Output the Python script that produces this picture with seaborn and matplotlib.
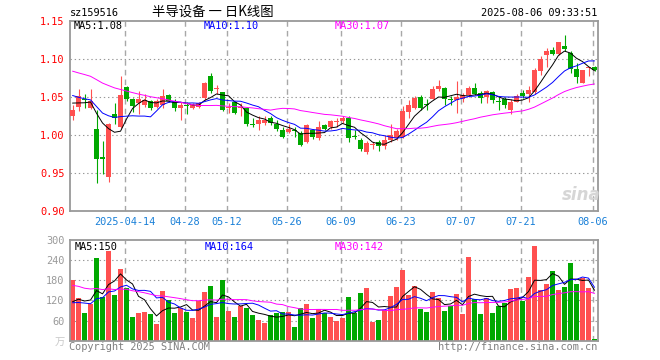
import matplotlib
matplotlib.use("Agg")
import matplotlib.pyplot as plt
import numpy as np
import pandas as pd
import seaborn as sns

# trading days shown (2025-03-31 .. 2025-08-06), exchange holidays removed
first_day = "2025-03-31"
last_day = "2025-08-06"
holidays = ["2025-04-04", "2025-05-01", "2025-05-02", "2025-05-05", "2025-06-02"]
label_days = ["2025-04-14", "2025-04-28", "2025-05-12", "2025-05-26", "2025-06-09",
              "2025-06-23", "2025-07-07", "2025-07-21", "2025-08-06"]

# daily OHLC of sz159516
open_ = [1.025, 1.037, 1.047, 1.036, 1.008, 0.971, 0.945, 1.028, 1.011, 1.063,
         1.048, 1.042, 1.039, 1.045, 1.037, 1.039, 1.052, 1.045, 1.036, 1.039,
         1.036, 1.037, 1.049, 1.077, 1.060, 1.056, 1.036, 1.043, 1.035, 1.036,
         1.014, 1.014, 1.016, 1.022, 1.015, 1.007, 1.004, 1.006, 1.003, 0.991,
         1.006, 0.996, 1.013, 1.010, 1.017, 1.018, 1.022, 0.998, 0.994, 0.977,
         0.987, 0.991, 0.986, 0.994, 0.996, 0.998, 1.030, 1.036, 1.050, 1.041,
         1.048, 1.061, 1.062, 1.047, 1.046, 1.047, 1.052, 1.062, 1.055, 1.050,
         1.056, 1.045, 1.047, 1.033, 1.044, 1.055, 1.054, 1.056, 1.084, 1.105,
         1.112, 1.107, 1.117, 1.108, 1.087, 1.069, 1.088, 1.090]
high = [1.040, 1.060, 1.054, 1.061, 1.033, 0.992, 1.016, 1.042, 1.077, 1.065,
        1.049, 1.058, 1.054, 1.046, 1.047, 1.061, 1.054, 1.047, 1.043, 1.044,
        1.042, 1.044, 1.070, 1.081, 1.066, 1.057, 1.042, 1.045, 1.042, 1.037,
        1.022, 1.025, 1.025, 1.025, 1.020, 1.011, 1.014, 1.010, 1.005, 1.014,
        1.008, 1.019, 1.015, 1.020, 1.022, 1.025, 1.025, 1.007, 0.996, 0.992,
        0.991, 0.994, 1.000, 1.014, 1.008, 1.038, 1.046, 1.051, 1.052, 1.047,
        1.064, 1.073, 1.063, 1.051, 1.071, 1.055, 1.064, 1.068, 1.058, 1.059,
        1.058, 1.050, 1.050, 1.047, 1.054, 1.059, 1.064, 1.088, 1.104, 1.115,
        1.116, 1.123, 1.131, 1.110, 1.095, 1.086, 1.090, 1.091]
low = [1.020, 1.031, 1.036, 1.034, 0.937, 0.949, 0.938, 1.015, 1.009, 1.045,
       1.030, 1.028, 1.037, 1.033, 1.035, 1.036, 1.043, 1.031, 1.020, 1.027,
       1.034, 1.035, 1.046, 1.055, 1.054, 1.031, 1.029, 1.027, 1.025, 1.012,
       1.011, 1.007, 1.013, 1.013, 1.005, 0.996, 1.003, 0.998, 0.986, 0.989,
       0.995, 0.993, 1.006, 1.008, 1.011, 1.016, 0.991, 0.995, 0.979, 0.975,
       0.981, 0.979, 0.981, 0.991, 0.994, 0.996, 1.022, 1.034, 1.033, 1.033,
       1.047, 1.058, 1.040, 1.040, 1.029, 1.044, 1.050, 1.052, 1.042, 1.042,
       1.042, 1.033, 1.036, 1.027, 1.044, 1.049, 1.044, 1.054, 1.079, 1.090,
       1.105, 1.105, 1.110, 1.082, 1.068, 1.068, 1.077, 1.084]
close = [1.033, 1.051, 1.046, 1.045, 0.968, 0.969, 1.014, 1.022, 1.052, 1.048,
         1.038, 1.047, 1.046, 1.035, 1.045, 1.051, 1.045, 1.036, 1.039, 1.038,
         1.040, 1.042, 1.068, 1.058, 1.062, 1.033, 1.037, 1.029, 1.037, 1.015,
         1.013, 1.020, 1.020, 1.016, 1.008, 0.998, 1.008, 1.005, 0.987, 1.013,
         0.998, 1.010, 1.008, 1.018, 1.018, 1.022, 0.996, 0.997, 0.982, 0.990,
         0.988, 0.985, 0.994, 1.000, 1.005, 1.031, 1.039, 1.049, 1.036, 1.040,
         1.060, 1.065, 1.047, 1.046, 1.050, 1.052, 1.062, 1.054, 1.049, 1.058,
         1.046, 1.044, 1.040, 1.044, 1.051, 1.051, 1.059, 1.085, 1.100, 1.110,
         1.107, 1.122, 1.113, 1.087, 1.076, 1.085, 1.089, 1.086]
# volume, 万
volume = [180, 128, 83, 110, 246, 131, 266, 137, 215, 156,
          71, 82, 86, 80, 50, 149, 122, 83, 98, 86,
          68, 118, 146, 164, 71, 182, 89, 71, 102, 98,
          76, 63, 53, 76, 83, 86, 86, 41, 98, 110,
          68, 95, 83, 70, 59, 68, 130, 84, 143, 157,
          56, 62, 91, 133, 160, 212, 136, 163, 94, 85,
          145, 126, 88, 103, 139, 79, 249, 123, 81, 126,
          82, 103, 113, 154, 157, 118, 190, 282, 151, 169,
          208, 151, 160, 230, 168, 188, 158, 6]

# sessions before the window, only needed to seed the moving averages
prev_close = [1.12, 1.11, 1.115, 1.10, 1.105, 1.11, 1.115, 1.115,
              1.11, 1.10, 1.105, 1.095, 1.09, 1.085, 1.09, 1.095, 1.085, 1.08, 1.085, 1.09,
              1.075, 1.065, 1.06, 1.055, 1.055, 1.05, 1.045, 1.04, 1.042]
prev_volume = [220, 250, 180, 200, 230, 190, 210, 170, 180, 200,
               160, 190, 210, 180, 170, 200, 160, 180, 190, 150,
               120, 100, 130, 95, 105, 90, 110, 95, 105]

price_labels = ["MA5:1.08", "MA10:1.10", "MA30:1.07"]
volume_labels = ["MA5:150", "MA10:164", "MA30:142"]

sns.set_theme(style="white")
plt.rcParams["font.family"] = ["DejaVu Sans Mono", "Noto Sans CJK SC"]
plt.rcParams["lines.scale_dashes"] = False

RED = "#ff5050"
GREEN = "#00a800"
GRID = "#a0a0a0"
FRAME = "#999999"
MA_COLORS = ["black", "#0000ff", "#ff00ff"]

days = pd.bdate_range(first_day, last_day)
days = days[~days.isin(pd.to_datetime(holidays))]
n = len(days)
x = np.arange(n)

o = np.array(open_)
c = np.array(close)
up = c >= o
colors = np.where(up, RED, GREEN)

all_close = pd.Series(prev_close + close)
all_vol = pd.Series(prev_volume + volume, dtype=float)
k = len(prev_close)
price_ma = [all_close.rolling(w).mean().to_numpy()[k:] for w in (5, 10, 30)]
vol_ma = [all_vol.rolling(w).mean().to_numpy()[k:] for w in (5, 10, 30)]

W, H = 660, 360
fig = plt.figure(figsize=(6.6, 3.6), dpi=100)
fig.patch.set_facecolor("white")


def box(l, t, r, b):
    return [l / W, 1 - b / H, (r - l) / W, (b - t) / H]


def put(px, py, s, **kw):
    fig.text(px / W, 1 - py / H, s, va="center", **kw)


ax = fig.add_axes(box(70, 21, 597.5, 211))
axv = fig.add_axes(box(70, 240, 597.5, 340.7))

label_idx = [int(np.where(days == pd.Timestamp(d))[0][0]) for d in label_days]
grid_x = [i - 0.33 for i in label_idx]

for a in (ax, axv):
    a.set_facecolor("white")
    a.set_xlim(-0.42, n - 0.5)
    for gx in grid_x:
        a.axvline(gx, color="#a8a8a8", lw=1.0, ls=(0, (4, 3)), zorder=1)
    for s in a.spines.values():
        s.set_color(FRAME)
        s.set_linewidth(1.3)
    a.tick_params(length=0)

# candles
ax.vlines(x, low, high, colors=colors, lw=0.8, zorder=2)
body = np.maximum(np.abs(c - o), 0.0012)
ax.bar(x, body, bottom=np.minimum(o, c), width=0.82, color=colors,
       linewidth=0, zorder=3)
for ma, col in zip(price_ma, MA_COLORS):
    sns.lineplot(x=x, y=ma, color=col, lw=0.7, ax=ax, zorder=4)

ax.set_ylim(0.90, 1.15)
yt = [0.90, 0.95, 1.00, 1.05, 1.10, 1.15]
ax.set_yticks(yt)
ax.set_yticklabels([f"{v:.2f}" for v in yt], color="#ff0000", fontsize=7.4)
for v in yt[1:-1]:
    ax.axhline(v, color="#999999", lw=0.8, ls=(0, (1, 2)), zorder=1)
ax.set_xticks(grid_x)
ax.set_xticklabels([days[i].strftime("%Y-%m-%d") if j == 0 else days[i].strftime("%m-%d")
                    for j, i in enumerate(label_idx)], color="#1a80d8", fontsize=7.4)
ax.tick_params(axis="y", pad=4)
ax.tick_params(axis="x", pad=4)

# volume
axv.bar(x, volume, width=0.82, color=colors, linewidth=0, zorder=2)
for ma, col in zip(vol_ma, MA_COLORS):
    sns.lineplot(x=x, y=ma, color=col, lw=0.7, ax=axv, zorder=4)
axv.set_ylim(0, 300)
vt = [0, 60, 120, 180, 240, 300]
axv.set_yticks(vt)
axv.set_yticklabels(["万"] + [str(v) for v in vt[1:]], color="#9a9a9a", fontsize=7.4)
axv.get_yticklabels()[0].set_color("#c8c8c8")
for v in vt[1:-1]:
    axv.axhline(v, color="#999999", lw=0.8, ls=(0, (1, 2)), zorder=1)
axv.set_xticks([])
axv.tick_params(axis="y", pad=4)

for a in (ax, axv):
    a.set_xlabel("")
    a.set_ylabel("")

# header and legends
put(70, 13, "sz159516", fontsize=7.4, color="black")
put(213, 12, "半导设备 一 日K线图", fontsize=9.6, color="black", ha="center",
    family=["Noto Sans CJK SC", "DejaVu Sans"])
put(597, 13, "2025-08-06 09:33:51", fontsize=7.4, color="black", ha="right")
for px, s, col in zip((74, 204, 335), price_labels, MA_COLORS):
    put(px, 26, s, fontsize=7.4, color=col)
for px, s, col in zip((75, 205, 335), volume_labels, MA_COLORS):
    put(px, 246.5, s, fontsize=7.4, color=col)
put(69, 347, "Copyright 2025 SINA.COM", fontsize=7.4, color="#808080")
put(597, 347, "http://finance.sina.com.cn", fontsize=7.4, color="#808080", ha="right")
put(581, 195, "sina", fontsize=12, color="#d6d6d6", ha="center", style="italic",
    weight="bold", family="DejaVu Sans")

fig.savefig("out.png", dpi=100, facecolor="white")
